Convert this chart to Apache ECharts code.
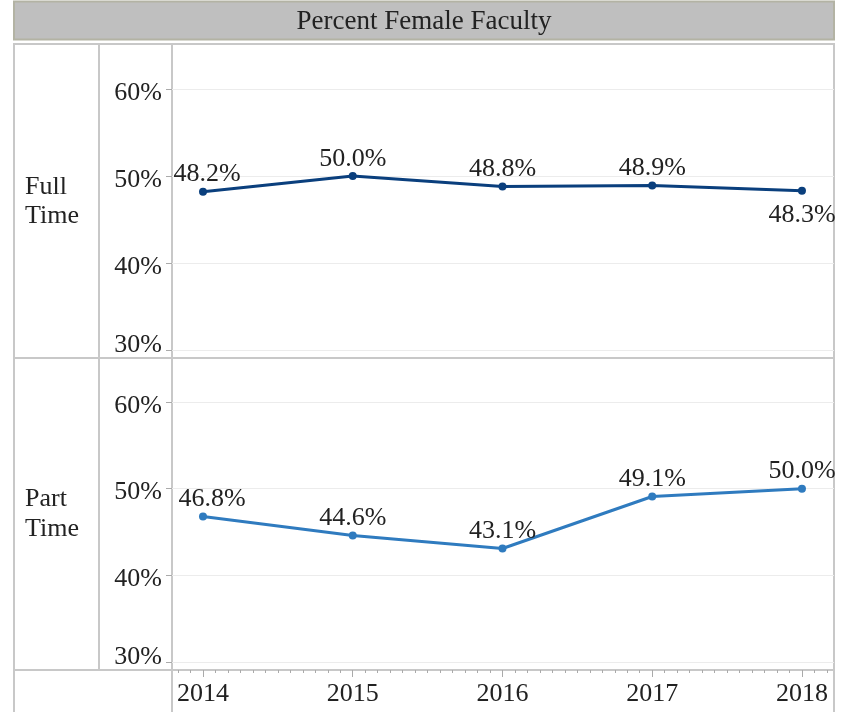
<!DOCTYPE html>
<html>
<head>
<meta charset="utf-8">
<script src="https://cdn.jsdelivr.net/npm/echarts@6/dist/echarts.min.js"></script>
<style>
html, body { margin: 0; padding: 0; background: #fff; }
#chart { width: 843px; height: 712px; }
</style>
</head>
<body>
<div id="chart"></div>
<script>
const title = 'Percent Female Faculty';
const years = [2014, 2015, 2016, 2017, 2018];
const fullTime = [48.2, 50.0, 48.8, 48.9, 48.3];
const partTime = [46.8, 44.6, 43.1, 49.1, 50.0];
const rowNames = ['Full\nTime', 'Part\nTime'];
// label below the point for these (index per series)
const fullBelow = [4];
const partBelow = [];

const xMin = 2013.793, xMax = 2018.214;
const font = 'Liberation Serif, Times New Roman, serif';
const gridColor = '#c8c8c8';

// small monthly ticks along the year axis
const monthTicks = [];
for (let y = 2013; y <= 2018; y++) {
    for (let m = 0; m < 12; m++) {
        const v = y + m / 12;
        if (v >= xMin && v <= xMax) monthTicks.push(v);
    }
}

function pts(vals, below, firstShift) {
    return vals.map(function (v, i) {
        const under = below.indexOf(i) >= 0;
        return {
            value: [years[i], v],
            label: {
                position: under ? 'bottom' : 'top',
                distance: under ? 7 : 0,
                offset: [i === 0 ? firstShift : 0, 0]
            }
        };
    });
}

function yAxis(gi) {
    return {
        gridIndex: gi, type: 'value', min: 30, max: 60, interval: 10,
        axisLine: { show: false },
        axisTick: { show: true, length: 6, lineStyle: { color: '#aaa' } },
        axisLabel: {
            margin: 10, color: '#222',
            formatter: function (v) { return v === 30 ? '{low|30%}' : '{n|' + v + '%}'; },
            rich: {
                n: { fontSize: 26, fontFamily: font, color: '#222', padding: [8, 0, 0, 0] },
                low: { fontSize: 26, fontFamily: font, color: '#222', padding: [0, 0, 10, 0] }
            }
        },
        splitLine: { lineStyle: { color: '#ececec', width: 1 } }
    };
}

function lineSeries(xi, yi, vals, below, color, firstShift) {
    return {
        type: 'line', xAxisIndex: xi, yAxisIndex: yi,
        data: pts(vals, below, firstShift),
        symbol: 'circle', symbolSize: 8,
        lineStyle: { color: color, width: 3 },
        itemStyle: { color: color },
        label: {
            show: true, fontSize: 26, fontFamily: font, color: '#222',
            formatter: function (p) { return p.value[1].toFixed(1) + '%'; }
        },
        emphasis: { disabled: true },
        animation: false
    };
}

const chart = echarts.init(document.getElementById('chart'));
chart.setOption({
    animation: false,
    grid: [
        { left: 172, right: 9, top: 89, height: 261 },
        { left: 172, right: 9, top: 402, height: 260 }
    ],
    xAxis: [
        { gridIndex: 0, type: 'value', min: xMin, max: xMax, show: false },
        {
            gridIndex: 1, type: 'value', min: xMin, max: xMax, position: 'bottom', offset: 8,
            axisLine: { show: false },
            axisTick: { show: true, length: 3, customValues: monthTicks, lineStyle: { color: '#aaa' } },
            axisLabel: { show: false },
            splitLine: { show: false }
        },
        {
            gridIndex: 1, type: 'value', min: xMin, max: xMax, position: 'bottom', offset: 8,
            axisLine: { show: false },
            axisTick: { show: true, length: 7, customValues: years, lineStyle: { color: '#aaa' } },
            axisLabel: {
                customValues: years, margin: 11, fontSize: 26, fontFamily: font, color: '#222',
                formatter: function (v) { return String(v); }
            },
            splitLine: { show: false }
        }
    ],
    yAxis: [yAxis(0), yAxis(1)],
    series: [
        lineSeries(0, 0, fullTime, fullBelow, '#0a3f7d', 4),
        lineSeries(2, 1, partTime, partBelow, '#2f7bbf', 9)
    ],
    graphic: [
        {
            type: 'rect', shape: { x: 14, y: 1.5, width: 820, height: 38 },
            style: { fill: '#bfbfbf', stroke: '#b3b3a4', lineWidth: 2 }
        },
        {
            type: 'text', x: 424, y: 22,
            style: { text: title, fontSize: 27, fontFamily: font, fill: '#222', align: 'center', verticalAlign: 'middle' }
        },
        {
            type: 'rect', shape: { x: 14, y: 44, width: 820, height: 690 },
            style: { fill: 'none', stroke: gridColor, lineWidth: 2 }
        },
        { type: 'line', shape: { x1: 99, y1: 44, x2: 99, y2: 670 }, style: { stroke: gridColor, lineWidth: 2 } },
        { type: 'line', shape: { x1: 172, y1: 44, x2: 172, y2: 712 }, style: { stroke: gridColor, lineWidth: 2 } },
        { type: 'line', shape: { x1: 14, y1: 358, x2: 834, y2: 358 }, style: { stroke: gridColor, lineWidth: 2 } },
        { type: 'line', shape: { x1: 14, y1: 670, x2: 834, y2: 670 }, style: { stroke: gridColor, lineWidth: 2 } },
        {
            type: 'text', x: 25, y: 202,
            style: { text: rowNames[0], fontSize: 26, lineHeight: 29, fontFamily: font, fill: '#222', verticalAlign: 'middle' }
        },
        {
            type: 'text', x: 25, y: 514,
            style: { text: rowNames[1], fontSize: 26, lineHeight: 30, fontFamily: font, fill: '#222', verticalAlign: 'middle' }
        }
    ]
});
</script>
</body>
</html>
